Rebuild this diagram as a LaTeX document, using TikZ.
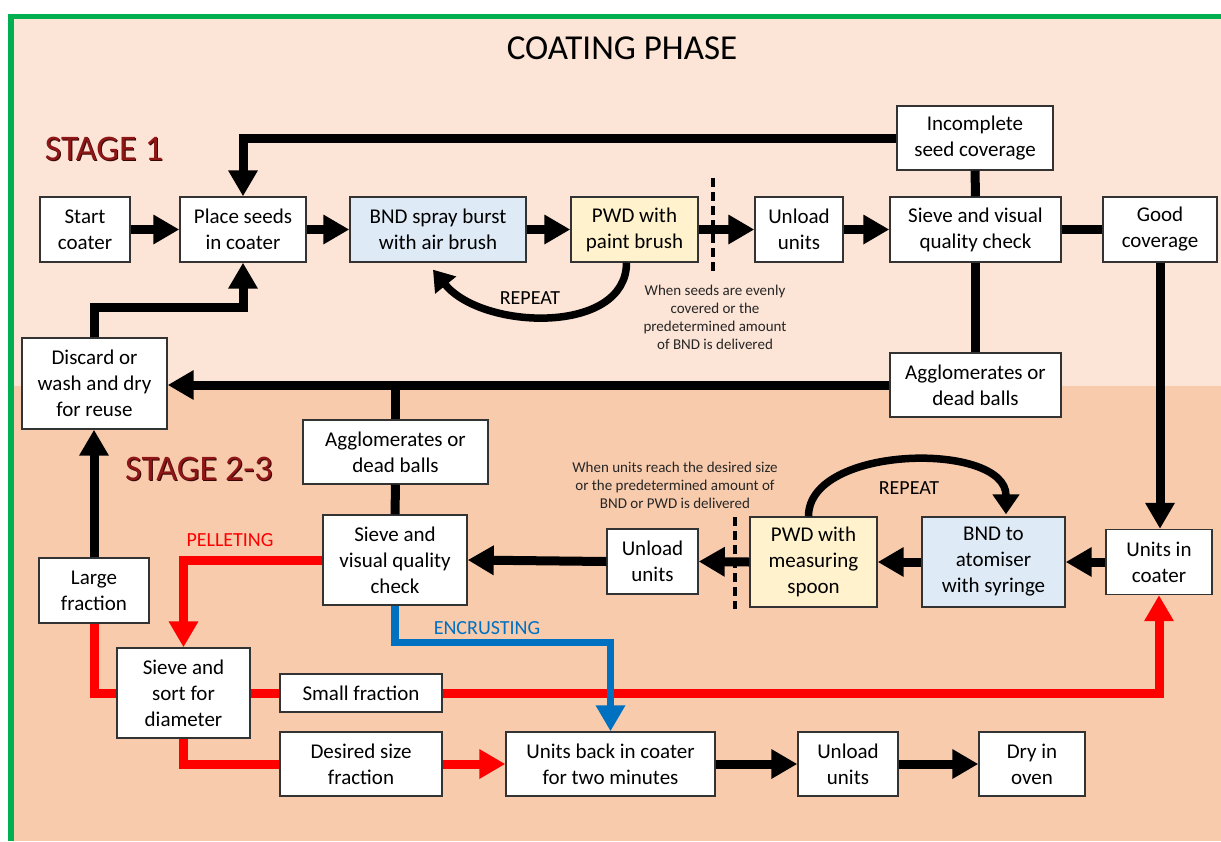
\documentclass[tikz,border=0pt]{standalone}
\usepackage{fontspec}
\setmainfont{Carlito}
\usetikzlibrary{arrows.meta,calc}
\definecolor{bgup}{HTML}{FCE4D6}
\definecolor{bglo}{HTML}{F8CBAD}
\definecolor{gborder}{HTML}{00B050}
\definecolor{bluefill}{HTML}{DEEBF7}
\definecolor{yelfill}{HTML}{FFF2CC}
\definecolor{pred}{HTML}{FF0000}
\definecolor{pblue}{HTML}{0070C0}
\definecolor{stagered}{HTML}{8E1616}
\definecolor{stageshadow}{HTML}{3A0505}
\begin{document}
\begin{tikzpicture}[x=1pt,y=-1pt,
  box/.style={draw=black!80,fill=white,line width=1.4pt,align=center,inner sep=0pt,
    font=\fontsize{21}{26}\selectfont},
  bluebox/.style={box,fill=bluefill},
  yelbox/.style={box,fill=yelfill},
  arr/.style={line width=9pt,-{Triangle[length=26pt,width=28pt]}},
  ln/.style={line width=9pt},
  redarr/.style={arr,color=pred},
  redln/.style={ln,color=pred},
  bluearr/.style={line width=7.5pt,color=pblue,-{Triangle[length=26pt,width=28pt]}},
  dsh/.style={line width=3.4pt,dash pattern=on 9pt off 5pt},
  rep/.style={line width=7.5pt,-{Triangle[length=20pt,width=26pt]}},
  note/.style={align=center,inner sep=0pt,text=black!85,font=\fontsize{15}{18}\selectfont},
  lbl/.style={inner sep=0pt,font=\fontsize{20}{24}\selectfont},
  stagelbl/.style={inner sep=0pt,font=\fontsize{36}{40}\selectfont}
]
\useasboundingbox (0,0) rectangle (1221,841);
% background
\fill[white] (0,0) rectangle (1221,841);
\fill[gborder] (8,14) rectangle (1221,841);
\fill[bgup] (14,19) rectangle (1221,386);
\fill[bglo] (14,386) rectangle (1221,841);

% titles
\node[inner sep=0pt,font=\fontsize{35}{40}\selectfont] (title) at (622,48) {COATING PHASE};
\node[stagelbl,text=stageshadow] (s1sh) at (105,150) {STAGE 1};
\node[stagelbl,text=stagered] (s1) at (104,149) {STAGE 1};
\node[stagelbl,text=stageshadow] (s2sh) at (200,470) {STAGE 2-3};
\node[stagelbl,text=stagered] (s2) at (199,469) {STAGE 2-3};

% stage 1 boxes
\node[box,minimum width=90,minimum height=65] (start) at (85,229.5) {Start\\coater};
\node[box,minimum width=126,minimum height=65] (place) at (243,229.5) {Place seeds\\in coater};
\node[bluebox,minimum width=176,minimum height=65] (bnd1) at (438,229.5) {BND spray burst\\with air brush};
\node[yelbox,minimum width=127,minimum height=65] (pwd1) at (634.5,229.5) {PWD with\\paint brush};
\node[box,minimum width=88,minimum height=65] (unload1) at (799,229.5) {Unload\\units};
\node[box,minimum width=171,minimum height=65] (sieve1) at (975.5,229.5) {Sieve and visual\\quality check};
\node[box,minimum width=114,minimum height=65] (good) at (1160,229.5) {Good\\coverage};
\node[box,minimum width=156,minimum height=64] (incomplete) at (975,138) {Incomplete\\seed coverage};
\node[box,minimum width=171,minimum height=64] (agglo1) at (975.5,385) {Agglomerates or\\dead balls};
\node[box,minimum width=145,minimum height=91] (discard) at (94.5,383.5) {Discard or\\wash and dry\\for reuse};

% stage 2-3 boxes
\node[box,minimum width=185,minimum height=64] (agglo2) at (395.5,452) {Agglomerates or\\dead balls};
\node[box,minimum width=144,minimum height=90] (sieve2) at (395,560) {Sieve and\\visual quality\\check};
\node[box,minimum width=110,minimum height=65] (large) at (94,590.5) {Large\\fraction};
\node[box,minimum width=91,minimum height=65] (unload2) at (652.5,561.5) {Unload\\units};
\node[yelbox,minimum width=127,minimum height=90] (pwd2) at (813.5,562) {PWD with\\measuring\\spoon};
\node[bluebox,minimum width=143,minimum height=90] (bnd2) at (993.5,562) {BND to\\atomiser\\with syringe};
\node[box,minimum width=106,minimum height=65] (unitsin) at (1159,562) {Units in\\coater};
\node[box,minimum width=133,minimum height=90] (sievesort) at (183.5,693) {Sieve and\\sort for\\diameter};
\node[box,minimum width=162,minimum height=38] (small) at (361,693) {Small fraction};
\node[box,minimum width=162,minimum height=64] (desired) at (361,764) {Desired size\\fraction};
\node[box,minimum width=209,minimum height=64] (unitsback) at (610.5,764) {Units back in coater\\for two minutes};
\node[box,minimum width=100,minimum height=64] (unload3) at (848,764) {Unload\\units};
\node[box,minimum width=106,minimum height=64] (dry) at (1032,764) {Dry in\\oven};

% stage 1 connectors
\draw[arr] (start.east) -- (place.west);
\draw[arr] (place.east) -- (bnd1.west);
\draw[arr] (bnd1.east) -- (pwd1.west);
\draw[arr] (pwd1.east) -- (unload1.west);
\draw[arr] (unload1.east) -- (sieve1.west);
\draw[ln] (sieve1.east) -- (good.west);
\draw[ln] (sieve1.north) -- (incomplete.south);
\draw[ln] (sieve1.south) -- (agglo1.north);
\draw[arr] (incomplete.west) -| (place.north);
\draw[arr] (agglo1.west) -- (agglo1.west -| discard.east);
\draw[ln] (agglo2.north) -- (agglo2.north |- agglo1.west);
\draw[arr] (good.south) -- (good.south |- unitsin.north);
\draw[arr] (discard.north) -- ++(0,-30) -| (place.south);
\draw[arr] (large.north) -- (large.north |- discard.south);
\coordinate (dl1a) at (713,178);
\coordinate (dl1b) at (713,273);
\draw[dsh] (dl1a) -- (dl1b);
\draw[rep] ([xshift=-8pt]pwd1.south) .. controls ++(0,72) and ($(bnd1.south)+(45,68)$) .. ($(bnd1.south)+(-5,7)$);
\node[lbl] (rep1) at (530,298) {REPEAT};
\node[note] (note1) at (715,317.5) {When seeds are evenly\\covered or the\\predetermined amount\\of BND is delivered};

% stage 2-3 connectors
\draw[ln] (agglo2.south) -- (sieve2.north);
\draw[arr] (unitsin.west) -- (bnd2.east);
\draw[arr] (bnd2.west) -- (pwd2.east);
\draw[arr] (pwd2.west) -- (unload2.east);
\draw[arr] (unload2.west) -- (sieve2.east);
\coordinate (dl2a) at (735,517);
\coordinate (dl2b) at (735,609);
\draw[dsh] (dl2a) -- (dl2b);
\draw[rep] ([xshift=-5pt]pwd2.north) .. controls ++(0,-72) and ($(bnd2.north)+(12.5,-75)$) .. ([xshift=12.5pt,yshift=2pt]bnd2.north);
\node[lbl] (rep2) at (909,488) {REPEAT};
\node[note] (note2) at (675,485) {When units reach the desired size\\or the predetermined amount of\\BND or PWD is delivered};

% pelleting (red)
\draw[redarr] (sieve2.west) -| (sievesort.north);
\node[lbl,text=pred] (pel) at (230,540) {PELLETING};
\draw[redln] (large.south) |- (sievesort.west);
\draw[redln] (sievesort.east) -- (small.west);
\draw[redarr] (small.east) -| (unitsin.south);
\draw[redln] (sievesort.south) |- (desired.west);
\draw[redarr] (desired.east) -- (unitsback.west);

% encrusting (blue)
\draw[bluearr] (sieve2.south) -- ++(0,37) -| (unitsback.north);
\node[lbl,text=pblue] (enc) at (487,628) {ENCRUSTING};

% final row
\draw[arr] (unitsback.east) -- (unload3.west);
\draw[arr] (unload3.east) -- (dry.west);
\end{tikzpicture}
\end{document}
